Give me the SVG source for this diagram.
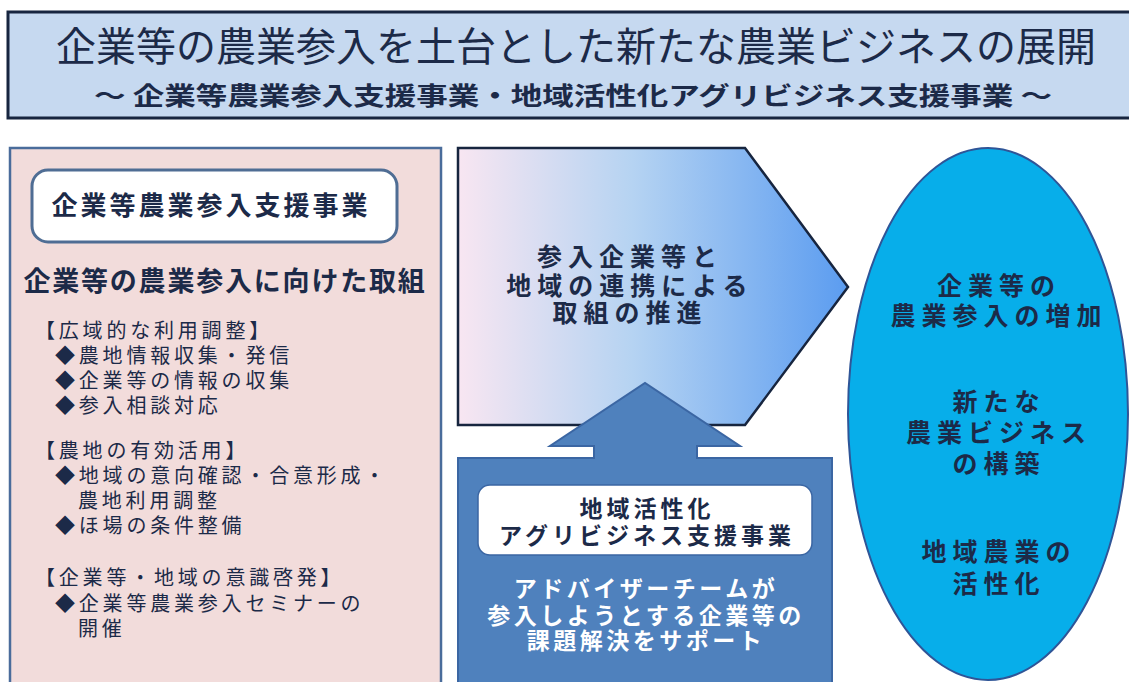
<svg xmlns="http://www.w3.org/2000/svg" width="1129" height="682" viewBox="0 0 1129 682">
<defs>
<linearGradient id="pg" x1="0" y1="0" x2="1" y2="0">
<stop offset="0" stop-color="#f8e6f2"/>
<stop offset="0.45" stop-color="#b5d3f2"/>
<stop offset="1" stop-color="#5b9cf0"/>
</linearGradient>
<style>
text{font-family:"Noto Sans CJK JP","Noto Sans CJK SC",sans-serif;fill:#1c2a48}
.b{font-weight:bold}
.c{text-anchor:middle}
.item{font-size:20px;letter-spacing:3.8px}
.mid{font-size:25px;font-weight:bold;letter-spacing:6px;text-anchor:middle}
.ell{font-size:25px;font-weight:bold;letter-spacing:6px;text-anchor:middle}
.box{font-size:23px;font-weight:bold;letter-spacing:4px;text-anchor:middle}
.w{fill:#ffffff;letter-spacing:3.5px}
</style>
</defs>
<rect width="1129" height="682" fill="#ffffff"/>

<g id="title">
<rect x="8" y="12" width="1130" height="106" fill="#c6d9f0" stroke="#17253f" stroke-width="3"/>
<text x="576" y="61" class="c" font-size="40" textLength="1040" lengthAdjust="spacingAndGlyphs">企業等の農業参入を土台とした新たな農業ビジネスの展開</text>
<text x="573" y="105" class="c b" font-size="25" textLength="958" lengthAdjust="spacingAndGlyphs">～ 企業等農業参入支援事業・地域活性化アグリビジネス支援事業 ～</text>
</g>

<g id="left-panel">
<rect x="10" y="148" width="431" height="545" fill="#f2dcdb" stroke="#4a6c9b" stroke-width="2.5"/>
<rect x="32" y="170" width="365" height="72" rx="16" fill="#ffffff" stroke="#4f6d94" stroke-width="3"/>
<text x="211" y="215" class="c b" font-size="26" letter-spacing="3">企業等農業参入支援事業</text>
<text x="225" y="291" class="c b" font-size="27" letter-spacing="1.8">企業等の農業参入に向けた取組</text>
<text x="35" y="338" class="item">【広域的な利用調整】</text>
<text x="55" y="363" class="item">◆農地情報収集・発信</text>
<text x="55" y="388" class="item">◆企業等の情報の収集</text>
<text x="55" y="413" class="item">◆参入相談対応</text>
<text x="35" y="458" class="item">【農地の有効活用】</text>
<text x="55" y="483" class="item">◆地域の意向確認・合意形成・</text>
<text x="78" y="508" class="item">農地利用調整</text>
<text x="55" y="533" class="item">◆ほ場の条件整備</text>
<text x="35" y="585" class="item">【企業等・地域の意識啓発】</text>
<text x="55" y="611" class="item">◆企業等農業参入セミナーの</text>
<text x="78" y="636" class="item">開催</text>
</g>

<g id="center-arrow">
<path d="M458,148 L745,148 L848,287 L745,425 L458,425 Z" fill="url(#pg)" stroke="#17253f" stroke-width="2.5"/>
<text x="630" y="266" class="mid">参入企業等と</text>
<text x="630" y="295" class="mid">地域の連携による</text>
<text x="630" y="322" class="mid">取組の推進</text>
</g>

<g id="support-box">
<path d="M458,458 L594,458 L594,446 L550,446 L645,383 L740,446 L697,446 L697,458 L832,458 L832,700 L458,700 Z" fill="#4f81bd" stroke="#3b66a3" stroke-width="2"/>
<rect x="478" y="485" width="334" height="70" rx="12" fill="#ffffff" stroke="#3b66a3" stroke-width="1.5"/>
<text x="647" y="517" class="box">地域活性化</text>
<text x="647" y="544" class="box">アグリビジネス支援事業</text>
<text x="646" y="597" class="box w">アドバイザーチームが</text>
<text x="646" y="624" class="box w">参入しようとする企業等の</text>
<text x="646" y="649" class="box w">課題解決をサポート</text>
</g>

<g id="result-ellipse">
<ellipse cx="988" cy="414" rx="140" ry="266" fill="#07aeea" stroke="#2f5597" stroke-width="2"/>
<text x="999" y="295" class="ell">企業等の</text>
<text x="999" y="325" class="ell">農業参入の増加</text>
<text x="999" y="411" class="ell">新たな</text>
<text x="999" y="442" class="ell">農業ビジネス</text>
<text x="999" y="473" class="ell">の構築</text>
<text x="999" y="561" class="ell">地域農業の</text>
<text x="999" y="593" class="ell">活性化</text>
</g>
</svg>
